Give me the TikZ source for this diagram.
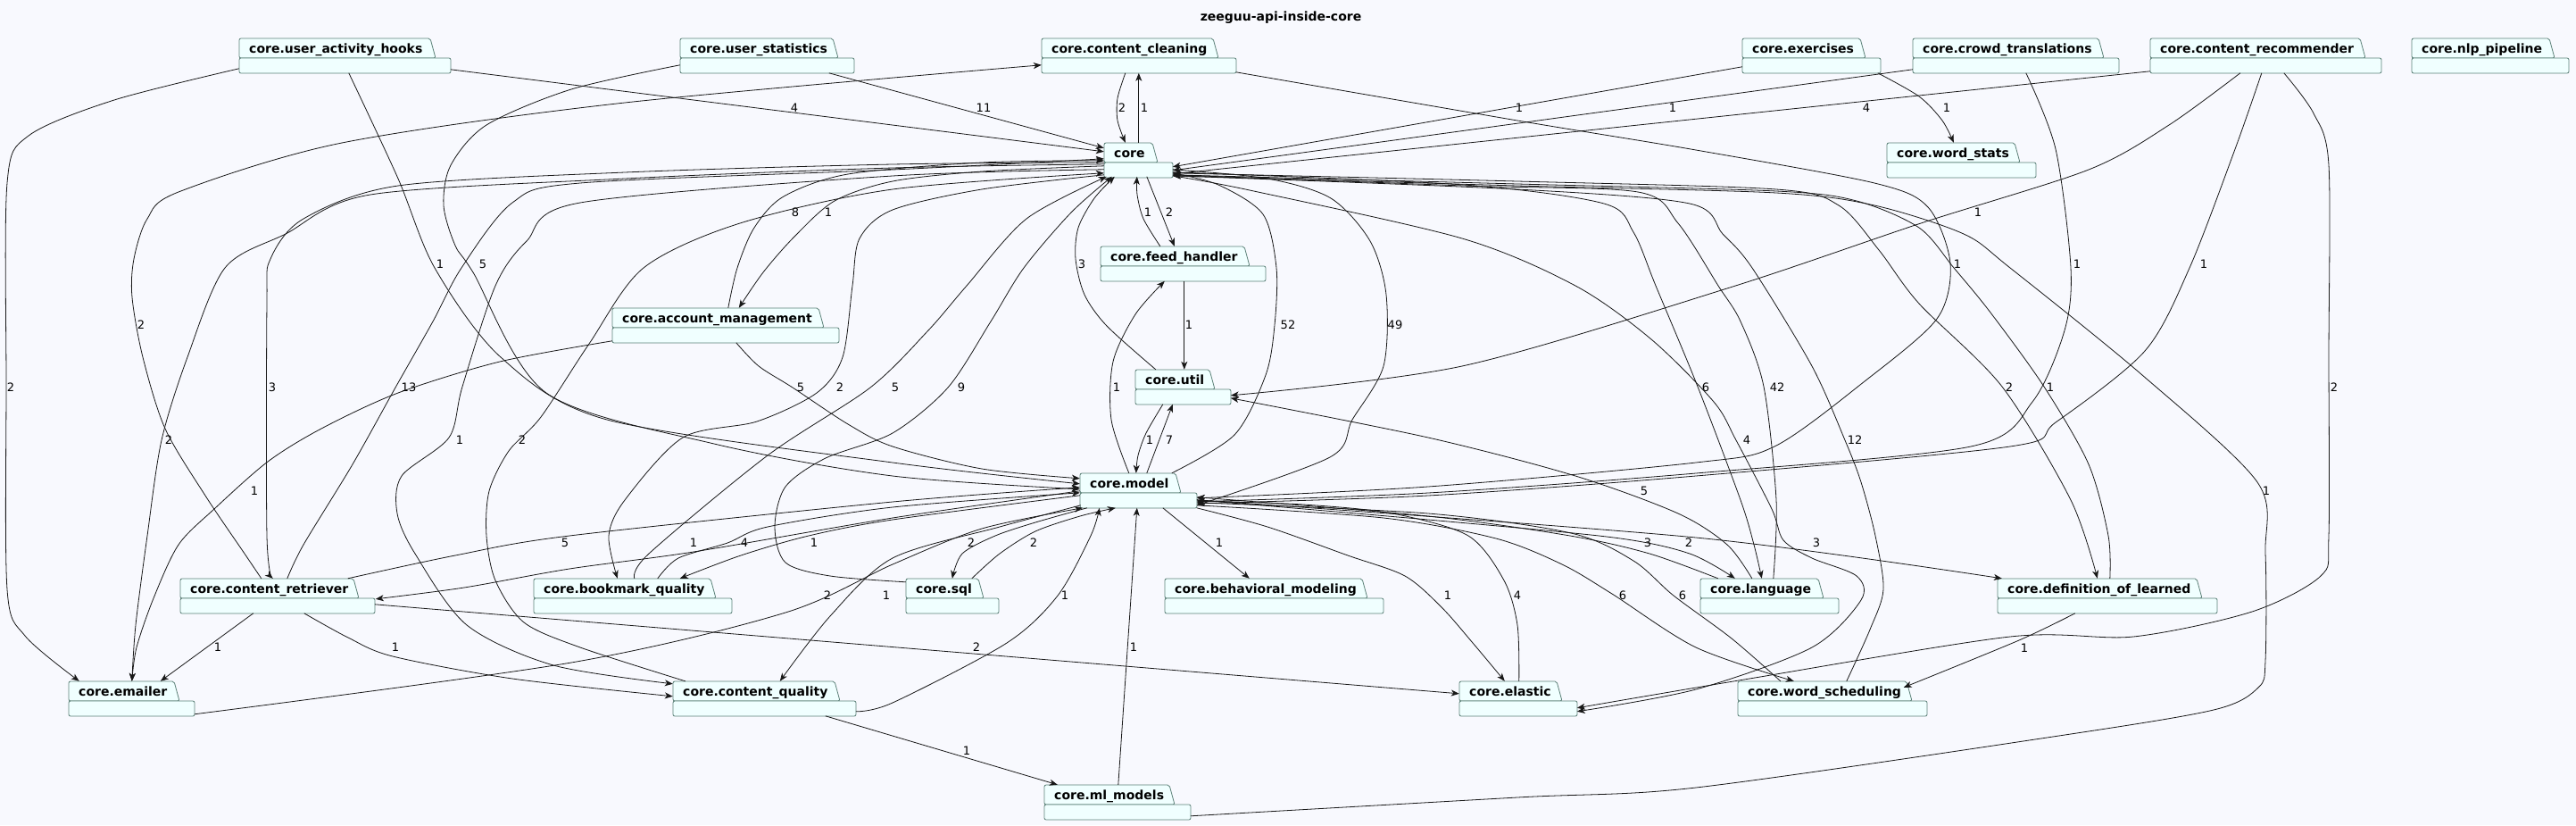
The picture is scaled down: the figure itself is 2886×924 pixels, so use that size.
\documentclass[tikz,border=0pt]{standalone}
\usepackage{fontspec}
\setmainfont{DejaVu Sans}
\usetikzlibrary{arrows.meta}

\definecolor{bgcol}{HTML}{F8F9FE}
\definecolor{pkgfill}{HTML}{F0FFFF}
\definecolor{pkgdraw}{HTML}{5B8077}
\definecolor{linecol}{HTML}{181818}

\tikzset{
  pkgline/.style={draw=pkgdraw, fill=pkgfill, line width=0.8pt, rounded corners=2pt},
  pkgbox/.style={inner sep=0pt, minimum height=39pt},
  pkgname/.style={anchor=base west, inner sep=0pt, font=\bfseries\fontsize{14}{16}\selectfont},
  dep/.style={draw=linecol, line width=0.8pt, -{Stealth[length=9pt,width=7pt,inset=2.5pt]}},
  lbl/.style={inner sep=0pt, font=\fontsize{13}{15}\selectfont},
  ttl/.style={anchor=base, inner sep=0pt, font=\bfseries\fontsize{14}{16}\selectfont},
}

% package: name, left, top, tab right, right, text
\newcommand{\drawpkg}[6]{%
  \draw[pkgline] (#2,#3+22) -- (#2,#3) -- (#4-6,#3) -- (#4,#3+22) -- cycle;
  \draw[pkgline] (#2,#3+22) rectangle (#5,#3+39);
  \node[pkgbox, minimum width=#5pt-#2pt] (#1) at ({(#2+#5)/2},#3+19.5) {};
  \node[pkgname] (#1-t) at (#2+11,#3+16.7) {#6};
}

\begin{document}
\begin{tikzpicture}[x=1pt,y=-1pt]
\fill[bgcol] (0,0) rectangle (2886,924);
\useasboundingbox (0,0) rectangle (2886,924);

\node[ttl] (title) at (1435,23) {zeeguu-api-inside-core};

% packages
\drawpkg{uah}{268}{43}{488}{505}{core.user\_activity\_hooks}
\drawpkg{ustat}{762}{43}{939}{957}{core.user\_statistics}
\drawpkg{ccl}{1167}{43}{1365}{1385}{core.content\_cleaning}
\drawpkg{exer}{1952}{43}{2090}{2107}{core.exercises}
\drawpkg{crowd}{2143}{43}{2357}{2374}{core.crowd\_translations}
\drawpkg{crec}{2409}{43}{2650}{2668}{core.content\_recommender}
\drawpkg{nlp}{2702}{43}{2862}{2878}{core.nlp\_pipeline}
\drawpkg{core}{1237}{160}{1297}{1314}{core}
\drawpkg{wstat}{2114}{160}{2263}{2281}{core.word\_stats}
\drawpkg{feed}{1233}{276}{1400}{1418}{core.feed\_handler}
\drawpkg{acct}{686}{345}{923}{940}{core.account\_management}
\drawpkg{util}{1272}{414}{1361}{1379}{core.util}
\drawpkg{model}{1210}{530}{1323}{1341}{core.model}
\drawpkg{cret}{202}{648}{402}{420}{core.content\_retriever}
\drawpkg{bqual}{598}{648}{802}{820}{core.bookmark\_quality}
\drawpkg{sql}{1015}{648}{1102}{1119}{core.sql}
\drawpkg{behav}{1305}{648}{1532}{1550}{core.behavioral\_modeling}
\drawpkg{lang}{1905}{648}{2043}{2060}{core.language}
\drawpkg{dol}{2238}{648}{2467}{2484}{core.definition\_of\_learned}
\drawpkg{email}{77}{763}{201}{218}{core.emailer}
\drawpkg{cqual}{754}{763}{941}{959}{core.content\_quality}
\drawpkg{elastic}{1635}{763}{1750}{1767}{core.elastic}
\drawpkg{wsched}{1947}{763}{2142}{2159}{core.word\_scheduling}
\drawpkg{ml}{1170}{879}{1316}{1334}{core.ml\_models}

% top row
\draw[dep] ([shift={(237,35)}]uah.north west) -- ([shift={(0,10)}]core.north west)
  node[lbl] (l1) at (890,121) {4};
\draw[dep] plot[smooth] coordinates {([shift={(123,39)}]uah.north west) (446,200) (487,300) (561,400) (680,470) (1000,518) ([shift={(0,12)}]model.north west)}
  node[lbl] (l2) at (493,296) {1};
\draw[dep] plot[smooth] coordinates {([shift={(0,34)}]uah.north west) (128,112) (32,152) (8,205) (7,430) (8,660) (28,712) ([shift={(12,0)}]email.north west)}
  node[lbl] (l3) at (12,434) {2};
\draw[dep] ([shift={(167,39)}]ustat.north west) -- ([shift={(0,6)}]core.north west)
  node[lbl] (l4) at (1102,121) {11};
\draw[dep] plot[smooth] coordinates {([shift={(0,30)}]ustat.north west) (640,100) (545,140) (505,185) (497,230) (510,275) (530,305) (612,440) (800,497) (1000,533) ([shift={(0,18)}]model.north west)}
  node[lbl] (l5) at (541,296) {5};
\draw[dep] plot[smooth] coordinates {([shift={(94,39)}]ccl.north west) (1252,110) (1252,135) ([shift={(24,0)}]core.north west)}
  node[lbl] (l6) at (1257,121) {2};
\draw[dep] ([shift={(39,0)}]core.north west) -- ([shift={(109,39)}]ccl.north west)
  node[lbl] (l7) at (1282,121) {1};
\draw[dep] plot[smooth] coordinates {([shift={(218,38)}]ccl.north west) (1700,135) (1900,168) (2100,205) (2160,232) (2185,295) (2170,357) (2089,427) (1988,500) (1900,518) (1600,545) ([shift={(131,28)}]model.north west)}
  node[lbl] (l8) at (2193,296) {1};
\draw[dep] plot[smooth] coordinates {([shift={(91,0)}]cret.north west) (274,620) (230,555) (185,480) (160,400) (148,333) (150,290) (165,245) (200,215) (383,160) (700,115) ([shift={(0,30)}]ccl.north west)}
  node[lbl] (l9) at (158,364) {2};
\draw[dep] ([shift={(0,32)}]exer.north west) -- ([shift={(77,27)}]core.north west)
  node[lbl] (l10) at (1702,121) {1};
\draw[dep] plot[smooth] coordinates {([shift={(152,39)}]exer.north west) (2150,108) (2176,135) ([shift={(75,0)}]wstat.north west)}
  node[lbl] (l11) at (2181,121) {1};
\draw[dep] ([shift={(0,35)}]crowd.north west) -- ([shift={(77,31)}]core.north west)
  node[lbl] (l12) at (1874,121) {1};
\draw[dep] plot[smooth] coordinates {([shift={(127,39)}]crowd.north west) (2303,167) (2320,300) (2313,370) (2277,450) (2208,500) (1900,530) (1600,552) ([shift={(131,32)}]model.north west)}
  node[lbl] (l13) at (2327,296) {1};
\draw[dep] ([shift={(0,37)}]crec.north west) -- ([shift={(77,35)}]core.north west)
  node[lbl] (l14) at (2091,121) {4};
\draw[dep] plot[smooth] coordinates {([shift={(101,39)}]crec.north west) (2430,140) (2340,190) (2152,250) (1938,322) (1638,410) ([shift={(107,29)}]util.north west)}
  node[lbl] (l15) at (2216,238) {1};
\draw[dep] plot[smooth] coordinates {([shift={(125,39)}]crec.north west) (2504,167) (2453,300) (2403,393) (2303,473) (2252,500) (1900,533) (1600,555) ([shift={(131,34)}]model.north west)}
  node[lbl] (l16) at (2469,296) {1};
\draw[dep] plot[smooth] coordinates {([shift={(150,39)}]crec.north west) (2592,127) (2609,185) (2609,400) (2609,600) (2600,645) (2523,685) (2390,713) (2252,713) (1960,760) ([shift={(132,30)}]elastic.north west)}
  node[lbl] (l17) at (2615,434) {2};

% around core
\draw[dep] plot[smooth] coordinates {([shift={(67,0)}]feed.north west) (1281,245) (1274,218) ([shift={(37,38)}]core.north west)}
  node[lbl] (l18) at (1286,238) {1};
\draw[dep] ([shift={(48,38)}]core.north west) -- ([shift={(83,0)}]feed.north west)
  node[lbl] (l19) at (1310,238) {2};
\draw[dep] ([shift={(94,39)}]feed.north west) -- ([shift={(55,0)}]util.north west)
  node[lbl] (l20) at (1332,364) {1};
\draw[dep] plot[smooth] coordinates {([shift={(23,0)}]util.north west) (1240,365) (1215,330) (1205,290) (1208,255) (1226,222) ([shift={(12,38)}]core.north west)}
  node[lbl] (l21) at (1212,296) {3};
\draw[dep] plot[smooth] coordinates {([shift={(55,0)}]model.north west) (1245,470) (1247,405) (1272,352) ([shift={(72,39)}]feed.north west)}
  node[lbl] (l22) at (1251,434) {1};
\draw[dep] plot[smooth] coordinates {([shift={(31,39)}]util.north west) (1284,485) (1275,510) ([shift={(63,0)}]model.north west)}
  node[lbl] (l23) at (1288,493) {1};
\draw[dep] ([shift={(75,0)}]model.north west) -- ([shift={(42,39)}]util.north west)
  node[lbl] (l24) at (1310,493) {7};
\draw[dep] plot[smooth] coordinates {([shift={(103,0)}]model.north west) (1383,487) (1418,420) (1428,364) (1430,300) (1415,240) (1365,207) ([shift={(77,34)}]core.north west)}
  node[lbl] (l25) at (1443,364) {52};
\draw[dep] plot[smooth] coordinates {([shift={(77,30)}]core.north west) (1420,200) (1491,222) (1535,270) (1553,330) (1550,410) (1515,470) (1490,512) ([shift={(131,36)}]model.north west)}
  node[lbl] (l26) at (1563,364) {49};

% left side
\draw[dep] plot[smooth] coordinates {([shift={(130,0)}]acct.north west) (826,300) (845,255) (878,220) (950,195) (1100,182) ([shift={(0,20)}]core.north west)}
  node[lbl] (l27) at (891,238) {8};
\draw[dep] plot[smooth] coordinates {([shift={(0,26)}]core.north west) (1100,192) (1000,203) (935,225) (890,265) (855,305) ([shift={(142,0)}]acct.north west)}
  node[lbl] (l28) at (928,238) {1};
\draw[dep] plot[smooth] coordinates {([shift={(0,37)}]acct.north west) (560,405) (446,440) (360,480) (300,517) (240,570) (200,610) (172,670) (153,725) ([shift={(71,0)}]email.north west)}
  node[lbl] (l29) at (285,550) {1};
\draw[dep] plot[smooth] coordinates {([shift={(139,39)}]acct.north west) (850,410) (888,434) (950,475) (1000,500) (1100,525) ([shift={(0,6)}]model.north west)}
  node[lbl] (l30) at (897,434) {5};
\draw[dep] plot[smooth] coordinates {([shift={(0,24)}]core.north west) (1000,188) (700,200) (415,218) (320,262) (252,300) (210,400) (181,493) (165,600) (152,700) ([shift={(71,0)}]email.north west)}
  node[lbl] (l31) at (189,493) {2};
\draw[dep] plot[smooth] coordinates {([shift={(0,22)}]core.north west) (1000,184) (700,193) (446,208) (340,245) (303,290) (299,340) (299,600) ([shift={(104,0)}]cret.north west)}
  node[lbl] (l32) at (305,434) {3};
\draw[dep] plot[smooth] coordinates {([shift={(120,0)}]cret.north west) (340,610) (395,520) (443,434) (485,360) (517,300) (574,227) (650,205) (1000,190) ([shift={(0,18)}]core.north west)}
  node[lbl] (l33) at (458,434) {13};
\draw[dep] plot[smooth] coordinates {([shift={(0,30)}]core.north west) (1000,197) (650,227) (590,270) (555,320) (518,433) (503,490) (450,533) (445,575) (465,620) (523,700) (620,745) ([shift={(0,3)}]cqual.north west)}
  node[lbl] (l34) at (515,493) {1};
\draw[dep] plot[smooth] coordinates {([shift={(14,0)}]cqual.north west) (650,725) (587,697) (555,650) (545,600) (548,550) (570,505) (606,467) (660,385) (721,300) (829,250) (1000,212) ([shift={(0,34)}]core.north west)}
  node[lbl] (l35) at (585,493) {2};
\draw[dep] plot[smooth] coordinates {([shift={(0,36)}]core.north west) (1100,212) (1000,235) (963,267) (955,320) (944,400) (915,440) (848,472) (765,490) (700,560) (682,600) ([shift={(94,0)}]bqual.north west)}
  node[lbl] (l36) at (941,434) {2};
\draw[dep] plot[smooth] coordinates {([shift={(113,0)}]bqual.north west) (727,620) (860,510) (975,434) (1040,370) (1083,320) (1150,245) ([shift={(3,38)}]core.north west)}
  node[lbl] (l37) at (1003,434) {5};
\draw[dep] plot[smooth] coordinates {([shift={(0,4)}]sql.north west) (930,645) (880,630) (868,590) (880,545) (925,513) (1000,485) (1062,434) (1110,360) (1147,300) (1200,238) ([shift={(9,38)}]core.north west)}
  node[lbl] (l38) at (1077,434) {9};

% around model, left and bottom
\draw[dep] plot[smooth] coordinates {([shift={(188,0)}]cret.north west) (510,622) (638,600) (1000,562) ([shift={(0,16)}]model.north west)}
  node[lbl] (l39) at (633,608) {5};
\draw[dep] plot[smooth] coordinates {([shift={(0,20)}]model.north west) (1000,580) (777,618) (638,637) (520,658) ([shift={(219,23)}]cret.north west)}
  node[lbl] (l40) at (777,608) {1};
\draw[dep] plot[smooth] coordinates {([shift={(139,0)}]bqual.north west) (760,625) (815,608) (860,590) (1000,568) ([shift={(0,22)}]model.north west)}
  node[lbl] (l41) at (834,608) {4};
\draw[dep] plot[smooth] coordinates {([shift={(0,25)}]model.north west) (1000,582) (906,600) (830,622) ([shift={(164,0)}]bqual.north west)}
  node[lbl] (l42) at (912,608) {1};
\draw[dep] plot[smooth] coordinates {([shift={(8,39)}]model.north west) (1160,585) (1115,600) (1078,620) ([shift={(52,0)}]sql.north west)}
  node[lbl] (l43) at (1088,608) {2};
\draw[dep] plot[smooth] coordinates {([shift={(74,0)}]sql.north west) (1120,620) (1160,595) (1210,578) ([shift={(40,39)}]model.north west)}
  node[lbl] (l44) at (1158,608) {2};
\draw[dep] plot[smooth] coordinates {([shift={(141,37)}]email.north west) (640,742) (880,686) (1000,632) (1100,592) ([shift={(3,39)}]model.north west)}
  node[lbl] (l45) at (927,667) {2};
\draw[dep] plot[smooth] coordinates {([shift={(1,36)}]model.north west) (1120,590) (1000,625) (930,690) ([shift={(120,0)}]cqual.north west)}
  node[lbl] (l46) at (993,667) {1};
\draw[dep] plot[smooth] coordinates {([shift={(205,34)}]cqual.north west) (1000,787) (1128,720) (1185,667) (1222,600) ([shift={(22,39)}]model.north west)}
  node[lbl] (l47) at (1193,667) {1};
\draw[dep] ([shift={(93,39)}]model.north west) -- ([shift={(95,0)}]behav.north west)
  node[lbl] (l48) at (1366,608) {1};
\draw[dep] ([shift={(83,0)}]ml.north west) -- ([shift={(64,39)}]model.north west)
  node[lbl] (l49) at (1270,725) {1};
\draw[dep] ([shift={(171,39)}]cqual.north west) -- ([shift={(15,0)}]ml.north west)
  node[lbl] (l50) at (1083,841) {1};
\draw[dep] ([shift={(82,39)}]cret.north west) -- ([shift={(103,0)}]email.north west)
  node[lbl] (l51) at (244,725) {1};
\draw[dep] plot[smooth] coordinates {([shift={(139,39)}]cret.north west) (390,714) (440,735) (574,760) ([shift={(0,17)}]cqual.north west)}
  node[lbl] (l52) at (443,725) {1};
\draw[dep] ([shift={(218,29)}]cret.north west) -- ([shift={(0,14)}]elastic.north west)
  node[lbl] (l53) at (1094,725) {2};

% right side
\draw[dep] plot[smooth] coordinates {([shift={(131,39)}]model.north west) (1420,590) (1510,622) (1574,645) (1615,680) (1650,720) ([shift={(51,0)}]elastic.north west)}
  node[lbl] (l54) at (1622,667) {1};
\draw[dep] plot[smooth] coordinates {([shift={(67,0)}]elastic.north west) (1700,700) (1685,650) (1645,600) (1560,575) (1460,565) ([shift={(131,31)}]model.north west)}
  node[lbl] (l55) at (1700,667) {4};
\draw[dep] plot[smooth] coordinates {([shift={(77,37)}]core.north west) (1400,213) (1638,267) (1765,320) (1850,380) (1920,450) (1945,493) (1985,570) (1998,605) (2030,625) (2080,645) (2085,672) (2030,725) (1900,772) ([shift={(132,34)}]elastic.north west)}
  node[lbl] (l56) at (1957,493) {4};
\draw[dep] plot[smooth] coordinates {([shift={(131,30)}]model.north west) (1600,582) (1808,602) (1893,620) ([shift={(39,0)}]lang.north west)}
  node[lbl] (l57) at (1892,608) {2};
\draw[dep] plot[smooth] coordinates {([shift={(20,0)}]lang.north west) (1848,620) (1759,600) (1600,578) ([shift={(131,27)}]model.north west)}
  node[lbl] (l58) at (1846,608) {3};
\draw[dep] plot[smooth] coordinates {([shift={(77,33)}]core.north west) (1640,207) (1797,228) (1830,260) (1855,320) (1902,433) (1950,560) (1965,610) ([shift={(69,0)}]lang.north west)}
  node[lbl] (l59) at (1911,434) {6};
\draw[dep] plot[smooth] coordinates {([shift={(82,0)}]lang.north west) (1990,560) (1976,433) (1950,360) (1925,320) (1880,250) (1835,215) (1640,208) ([shift={(77,36)}]core.north west)}
  node[lbl] (l60) at (1991,434) {42};
\draw[dep] plot[smooth] coordinates {([shift={(58,0)}]lang.north west) (1935,610) (1880,575) (1765,533) (1600,490) ([shift={(107,32)}]util.north west)}
  node[lbl] (l61) at (1842,550) {5};
\draw[dep] plot[smooth] coordinates {([shift={(131,36)}]model.north west) (1550,580) (1676,603) (1750,632) (1806,665) (1900,725) ([shift={(63,0)}]wsched.north west)}
  node[lbl] (l62) at (1818,667) {6};
\draw[dep] plot[smooth] coordinates {([shift={(48,0)}]wsched.north west) (1940,715) (1875,667) (1830,628) (1760,597) (1600,575) ([shift={(131,33)}]model.north west)}
  node[lbl] (l63) at (1885,667) {6};
\draw[dep] plot[smooth] coordinates {([shift={(122,0)}]wsched.north west) (2095,705) (2110,660) (2101,600) (2085,540) (2067,493) (2030,410) (1963,300) (1930,262) (1893,228) (1700,212) ([shift={(77,37)}]core.north west)}
  node[lbl] (l64) at (2078,493) {12};
\draw[dep] plot[smooth] coordinates {([shift={(77,34)}]core.north west) (1700,203) (1990,212) (2060,230) (2105,280) (2150,340) (2243,433) (2320,560) ([shift={(112,0)}]dol.north west)}
  node[lbl] (l65) at (2251,434) {2};
\draw[dep] plot[smooth] coordinates {([shift={(126,0)}]dol.north west) (2362,600) (2340,520) (2290,433) (2230,350) (2189,300) (2150,255) (2080,225) (1990,214) (1700,206) ([shift={(77,36)}]core.north west)}
  node[lbl] (l66) at (2297,434) {1};
\draw[dep] plot[smooth] coordinates {([shift={(131,30)}]model.north west) (1900,602) ([shift={(5,0)}]dol.north west)}
  node[lbl] (l67) at (2035,608) {3};
\draw[dep] plot[smooth] coordinates {([shift={(87,39)}]dol.north west) (2262,717) ([shift={(186,7)}]wsched.north west)}
  node[lbl] (l68) at (2268,726) {1};
\draw[dep] plot[smooth] coordinates {([shift={(164,35)}]ml.north west) (1700,893) (1900,882) (2300,825) (2480,795) (2530,770) (2538,740) (2538,620) (2529,540) (2400,420) (2252,300) (2200,262) (2100,230) (1990,216) (1700,208) ([shift={(77,37)}]core.north west)}
  node[lbl] (l69) at (2539,550) {1};
\end{tikzpicture}
\end{document}
